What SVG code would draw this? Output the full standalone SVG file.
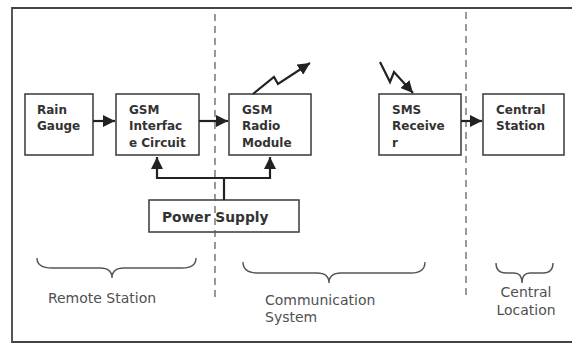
<svg xmlns="http://www.w3.org/2000/svg" width="572" height="345" viewBox="0 0 572 345">
<style>
.box{fill:#fff;stroke:#444;stroke-width:1.6}
.bt{font-family:"DejaVu Sans",Verdana,sans-serif;font-weight:bold;font-size:12px;fill:#333}
.lt{font-family:"DejaVu Sans",Verdana,sans-serif;font-size:14px;fill:#505050}
.ln{fill:none;stroke:#222;stroke-width:2.2}
.br{fill:none;stroke:#555;stroke-width:1.4}
.dash{stroke:#555;stroke-width:1.2;stroke-dasharray:7 5}
</style>
<defs>
<marker id="ah" viewBox="0 0 10 10" refX="10" refY="5" markerWidth="5.5" markerHeight="5.5" orient="auto" markerUnits="strokeWidth">
<path d="M0,0 L10,5 L0,10 z" fill="#222"/>
</marker>
</defs>
<rect width="572" height="345" fill="#fff"/>
<path d="M600,8 H12 V342 H600" fill="none" stroke="#444" stroke-width="1.8"/>
<g id="rain-gauge"><rect class="box" x="25" y="94" width="68" height="61"/><text class="bt" x="37" y="114">Rain</text><text class="bt" x="37" y="130">Gauge</text></g>
<g id="gsm-interface"><rect class="box" x="116" y="94" width="83" height="61"/><text class="bt" x="129" y="114">GSM</text><text class="bt" x="129" y="130">Interfac</text><text class="bt" x="129" y="147">e Circuit</text></g>
<g id="gsm-radio"><rect class="box" x="229" y="94" width="82" height="61"/><text class="bt" x="242" y="114">GSM</text><text class="bt" x="242" y="130">Radio</text><text class="bt" x="242" y="147">Module</text></g>
<g id="sms-receiver"><rect class="box" x="379" y="94" width="82" height="61"/><text class="bt" x="392" y="114">SMS</text><text class="bt" x="392" y="130">Receive</text><text class="bt" x="392" y="147">r</text></g>
<g id="central-station"><rect class="box" x="483" y="94" width="81" height="61"/><text class="bt" x="496" y="114">Central</text><text class="bt" x="496" y="130">Station</text></g>
<g id="power-supply"><rect class="box" x="149" y="200" width="150" height="32"/><text class="bt" x="162" y="222" style="font-size:13.8px">Power Supply</text></g>
<g id="dividers">
<line class="dash" x1="215" y1="14" x2="215" y2="300"/>
<line class="dash" x1="466" y1="12" x2="466" y2="300"/>
</g>
<g id="connectors">
<line class="ln" x1="93" y1="121" x2="115" y2="121" marker-end="url(#ah)"/>
<line class="ln" x1="199" y1="121" x2="228" y2="121" marker-end="url(#ah)"/>
<line class="ln" x1="461" y1="121" x2="482" y2="121" marker-end="url(#ah)"/>
<polyline class="ln" points="157,178 270,178 270,157" marker-end="url(#ah)"/>
<line class="ln" x1="157" y1="179" x2="157" y2="157" marker-end="url(#ah)"/>
<line class="ln" x1="224" y1="178" x2="224" y2="200"/>
<polyline class="ln" points="253,94 274,77 278,84 310,63" marker-end="url(#ah)"/>
<polyline class="ln" points="380,62 390,82 394,72 413,93" marker-end="url(#ah)"/>
</g>
<g id="braces">
<path class="br" d="M37,258 Q37,268 52,268 L100,268 Q112,268 112,278 Q112,268 124,268 L182,268 Q196,268 196,258"/>
<path class="br" d="M243,262 Q243,273 258,273 L317,273 Q329,273 329,283 Q329,273 341,273 L411,273 Q425,273 425,262"/>
<path class="br" d="M496,263 Q496,273 506,273 L514,273 Q522,273 522,283 Q522,273 530,273 L543,273 Q553,273 553,263"/>
</g>
<g id="labels">
<text class="lt" x="102" y="303" text-anchor="middle">Remote Station</text>
<text class="lt" x="265" y="305">Communication</text>
<text class="lt" x="265" y="322">System</text>
<text class="lt" x="526" y="297" text-anchor="middle">Central</text>
<text class="lt" x="526" y="315" text-anchor="middle">Location</text>
</g>
</svg>
